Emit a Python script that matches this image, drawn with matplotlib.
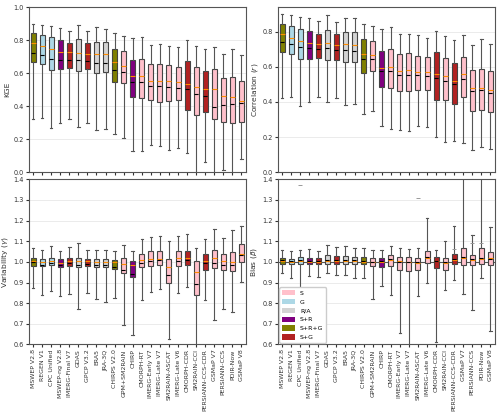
import numpy as np
import matplotlib
matplotlib.use("Agg")
import matplotlib.pyplot as plt
from matplotlib.patches import Patch

# produits et groupes
produits = ["MSWEP V2.8", "REGEN V1", "CPC Unified", "MSWEP-ng V2.8", "IMERG-Final V7",
            "GDAS", "GPCP V3.2", "ERA5", "JRA-3Q", "CHIRPS V2.0", "GPM+SM2RAIN", "CHIRP",
            "CMORPH-RT", "IMERG-Early V7", "IMERG-Late V7", "SM2RAIN-ASCAT", "IMERG-Late V6",
            "CMORPH-CDR", "SM2RAIN-CCI", "PERSIANN-CCS-CDR", "GSMaP V7", "PERSIANN-CCS",
            "PDIR-Now", "GSMaP V8"]
groupes = ["S+R+G", "G", "G", "S+R", "S+G", "R/A", "S+G", "R/A", "R/A", "S+R+G", "S", "S+R",
           "S", "S", "S", "S", "S", "S+G", "S", "S+G", "S", "S", "S", "S"]
couleurs = {"S": "pink", "G": "lightblue", "R/A": "lightgray",
            "S+R": "purple", "S+R+G": "olive", "S+G": "firebrick"}

# KGE : whisker bas, q1, mediane, moyenne, q3, whisker haut
kge_wlo = [0.322, 0.328, 0.269, 0.296, 0.324, 0.275, 0.300, 0.253, 0.261, 0.229, 0.209, 0.128,
           0.128, 0.162, 0.158, 0.134, 0.146, 0.117, -0.10, 0.063, -0.10, 0.016, -0.10, 0.083]
kge_q1 = [0.668, 0.654, 0.621, 0.623, 0.634, 0.615, 0.623, 0.603, 0.607, 0.545, 0.543, 0.453,
          0.451, 0.435, 0.423, 0.431, 0.435, 0.377, 0.344, 0.362, 0.322, 0.306, 0.300, 0.302]
kge_med = [0.781, 0.763, 0.745, 0.727, 0.727, 0.720, 0.715, 0.715, 0.715, 0.666, 0.646, 0.581,
           0.581, 0.551, 0.551, 0.551, 0.545, 0.532, 0.514, 0.502, 0.502, 0.462, 0.453, 0.433]
kge_mean = [0.720, 0.707, 0.684, 0.680, 0.680, 0.678, 0.672, 0.660, 0.660, 0.617, 0.605, 0.545,
            0.545, 0.522, 0.520, 0.514, 0.508, 0.502, 0.472, 0.462, 0.395, 0.409, 0.413, 0.417]
kge_q3 = [0.842, 0.828, 0.816, 0.800, 0.785, 0.806, 0.781, 0.790, 0.790, 0.749, 0.731, 0.682,
          0.686, 0.654, 0.654, 0.648, 0.640, 0.672, 0.638, 0.611, 0.623, 0.569, 0.579, 0.551]
kge_whi = [0.899, 0.893, 0.883, 0.872, 0.858, 0.890, 0.858, 0.877, 0.870, 0.842, 0.824, 0.812,
           0.818, 0.773, 0.775, 0.767, 0.757, 0.800, 0.767, 0.747, 0.761, 0.715, 0.749, 0.709]

# correlation
cor_wlo = [0.420, 0.429, 0.376, 0.400, 0.429, 0.400, 0.420, 0.380, 0.386, 0.334, 0.346, 0.264,
           0.247, 0.239, 0.234, 0.264, 0.258, 0.203, 0.171, 0.179, 0.169, 0.124, 0.143, 0.135]
cor_q1 = [0.686, 0.671, 0.642, 0.642, 0.648, 0.637, 0.640, 0.625, 0.629, 0.562, 0.578, 0.486,
          0.477, 0.464, 0.460, 0.469, 0.467, 0.410, 0.412, 0.391, 0.426, 0.346, 0.352, 0.340]
cor_med = [0.785, 0.766, 0.749, 0.733, 0.730, 0.733, 0.724, 0.728, 0.724, 0.673, 0.665, 0.593,
           0.600, 0.576, 0.581, 0.572, 0.568, 0.559, 0.547, 0.519, 0.559, 0.479, 0.481, 0.467]
cor_mean = [0.739, 0.730, 0.711, 0.705, 0.700, 0.705, 0.694, 0.694, 0.692, 0.642, 0.642, 0.576,
            0.576, 0.555, 0.555, 0.555, 0.549, 0.538, 0.519, 0.500, 0.528, 0.462, 0.469, 0.450]
cor_q3 = [0.846, 0.830, 0.817, 0.804, 0.789, 0.811, 0.785, 0.798, 0.796, 0.756, 0.745, 0.690,
          0.699, 0.673, 0.678, 0.661, 0.654, 0.684, 0.650, 0.621, 0.656, 0.583, 0.589, 0.574]
cor_whi = [0.900, 0.893, 0.886, 0.876, 0.863, 0.895, 0.857, 0.880, 0.876, 0.842, 0.832, 0.813,
           0.825, 0.789, 0.789, 0.779, 0.766, 0.804, 0.773, 0.754, 0.779, 0.726, 0.760, 0.728]

# variabilite
var_wlo = [0.872, 0.838, 0.859, 0.833, 0.846, 0.770, 0.850, 0.820, 0.807, 0.825, 0.692, 0.644,
           0.817, 0.856, 0.869, 0.628, 0.850, 0.877, 0.550, 0.816, 0.720, 0.770, 0.759, 0.903]
var_q1 = [0.982, 0.979, 0.984, 0.973, 0.982, 0.973, 0.981, 0.976, 0.976, 0.965, 0.947, 0.927,
          0.973, 0.982, 0.986, 0.900, 0.982, 0.987, 0.841, 0.963, 0.971, 0.963, 0.958, 0.997]
var_med = [1.004, 0.999, 1.004, 0.994, 1.004, 1.002, 1.002, 0.997, 0.997, 0.997, 0.992, 0.984,
           1.008, 1.013, 1.013, 0.974, 1.017, 1.018, 0.953, 1.002, 1.017, 1.005, 1.000, 1.036]
var_mean = [0.997, 0.986, 0.995, 0.986, 0.995, 0.986, 0.992, 0.986, 0.986, 0.973, 0.960, 0.940,
            0.995, 1.002, 1.008, 0.934, 1.005, 1.008, 0.892, 0.994, 0.994, 0.987, 0.984, 1.033]
var_q3 = [1.017, 1.013, 1.021, 1.012, 1.020, 1.021, 1.015, 1.012, 1.012, 1.008, 1.021, 1.005,
          1.036, 1.051, 1.052, 1.015, 1.054, 1.051, 1.002, 1.036, 1.059, 1.039, 1.046, 1.086]
var_whi = [1.067, 1.057, 1.078, 1.054, 1.070, 1.089, 1.059, 1.059, 1.059, 1.054, 1.083, 1.051,
           1.109, 1.119, 1.125, 1.099, 1.127, 1.136, 1.065, 1.111, 1.158, 1.117, 1.153, 1.175]

# biais
bia_wlo = [0.944, 0.920, 0.860, 0.932, 0.929, 0.944, 0.937, 0.937, 0.924, 0.922, 0.819, 0.882,
           0.839, 0.654, 0.550, 0.835, 0.900, 0.610, 0.863, 0.912, 0.844, 0.766, 0.920, 0.663]
bia_q1 = [0.989, 0.988, 0.990, 0.988, 0.988, 0.990, 0.988, 0.990, 0.988, 0.990, 0.981, 0.976,
          0.981, 0.963, 0.955, 0.962, 0.994, 0.970, 0.962, 0.990, 0.985, 0.985, 0.990, 0.987]
bia_med = [1.004, 1.000, 1.003, 1.000, 1.000, 1.005, 1.003, 1.003, 1.002, 1.000, 0.997, 0.999,
           1.007, 1.005, 0.999, 0.994, 1.017, 1.005, 0.994, 1.010, 1.017, 1.008, 1.013, 1.017]
bia_mean = [1.008, 1.006, 1.010, 1.006, 1.006, 1.010, 1.008, 1.008, 1.007, 1.005, 1.000, 1.002,
            1.012, 1.001, 0.997, 0.999, 1.022, 1.003, 0.998, 1.015, 1.025, 1.012, 1.020, 1.015]
bia_q3 = [1.021, 1.013, 1.025, 1.018, 1.018, 1.033, 1.030, 1.028, 1.025, 1.023, 1.021, 1.018,
          1.033, 1.025, 1.023, 1.020, 1.053, 1.023, 1.020, 1.040, 1.069, 1.031, 1.066, 1.048]
bia_whi = [1.057, 1.054, 1.057, 1.062, 1.055, 1.083, 1.070, 1.075, 1.067, 1.065, 1.057, 1.059,
           1.077, 1.066, 1.062, 1.066, 1.213, 1.059, 1.100, 1.175, 1.500, 1.129, 1.500, 1.168]
# petits traits isoles (valeurs hors moustaches)
bia_fliers = {2: [1.37], 15: [1.307], 19: [1.063], 21: [1.092], 22: [1.092]}


def make_stats(wlo, q1, med, mean, q3, whi, fliers=None):
    stats = []
    for i in range(len(med)):
        stats.append(dict(whislo=wlo[i], q1=q1[i], med=med[i], mean=mean[i], q3=q3[i],
                          whishi=whi[i], fliers=(fliers or {}).get(i, []), label=produits[i]))
    return stats


def trace_panel(ax, stats, ylabel, ylim, yticks, labels_x):
    b = ax.bxp(stats, positions=np.arange(len(stats)), widths=0.55, patch_artist=True,
               showmeans=True, meanline=True, showfliers=True,
               boxprops=dict(edgecolor="#444444", linewidth=0.8),
               whiskerprops=dict(color="#555555", linewidth=0.8),
               capprops=dict(color="#555555", linewidth=0.8),
               medianprops=dict(color="darkorange", linewidth=0.8),
               meanprops=dict(color="black", linestyle="--", linewidth=0.8),
               flierprops=dict(marker="_", markersize=3.5, markeredgecolor="#999999",
                               markeredgewidth=0.7))
    for patch, g in zip(b["boxes"], groupes):
        patch.set_facecolor(couleurs[g])
    ax.set_xlim(-0.5, len(stats) - 0.5)
    ax.set_ylim(*ylim)
    ax.set_yticks(yticks)
    ax.yaxis.grid(True, color="#ebebeb", linewidth=0.7)
    ax.set_axisbelow(True)
    ax.set_ylabel(ylabel, fontsize=5.4, color="#333333", labelpad=2)
    ax.tick_params(labelsize=4.7, colors="#333333", length=2, pad=1.5)
    for s in ax.spines.values():
        s.set_color("#555555")
        s.set_linewidth(0.8)
    ax.set_xticks(np.arange(len(stats)))
    if labels_x:
        ax.set_xticklabels(produits, rotation=90, fontsize=4.5)
    else:
        ax.set_xticklabels([])


fig = plt.figure(figsize=(5, 4.15), dpi=100)
ax1 = fig.add_axes([0.057, 0.585, 0.435, 0.398])
ax2 = fig.add_axes([0.555, 0.585, 0.435, 0.398])
ax3 = fig.add_axes([0.057, 0.170, 0.435, 0.398])
ax4 = fig.add_axes([0.555, 0.170, 0.435, 0.398])

trace_panel(ax1, make_stats(kge_wlo, kge_q1, kge_med, kge_mean, kge_q3, kge_whi),
            "KGE", (0, 1.0), np.arange(0, 1.01, 0.2), False)
trace_panel(ax2, make_stats(cor_wlo, cor_q1, cor_med, cor_mean, cor_q3, cor_whi),
            "Correlation ($r$)", (0, 0.94), np.arange(0, 0.81, 0.2), False)
trace_panel(ax3, make_stats(var_wlo, var_q1, var_med, var_mean, var_q3, var_whi),
            "Variability ($\\gamma$)", (0.6, 1.4), np.arange(0.6, 1.41, 0.1), True)
trace_panel(ax4, make_stats(bia_wlo, bia_q1, bia_med, bia_mean, bia_q3, bia_whi, bia_fliers),
            "Bias ($\\beta$)", (0.6, 1.4), np.arange(0.6, 1.41, 0.1), True)
ax4.axhline(1.0, color="#555555", linewidth=0.8, zorder=1.5)

handles = [Patch(facecolor=couleurs[k], label=k) for k in ["S", "G", "R/A", "S+R", "S+R+G", "S+G"]]
ax4.legend(handles=handles, loc="lower left", fontsize=4.4, framealpha=1,
           edgecolor="#cccccc", handlelength=2.2, handleheight=1.0, labelspacing=0.5,
           borderpad=0.4, borderaxespad=0.3, handletextpad=0.8)

fig.savefig("out.png", dpi=100)
